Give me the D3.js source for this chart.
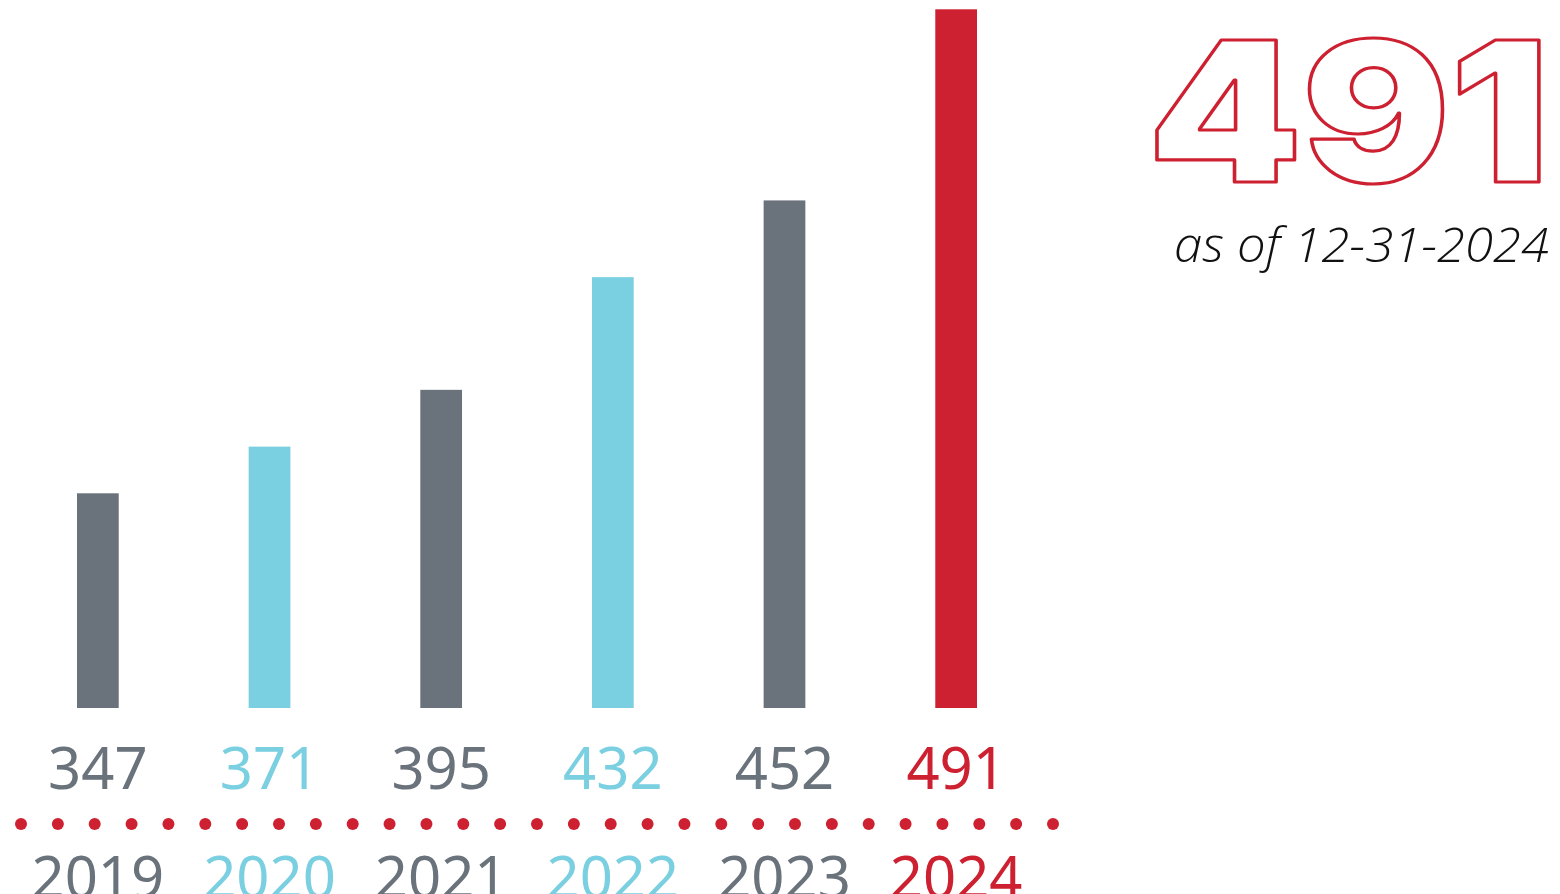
<!DOCTYPE html>
<html>
<head>
<meta charset="utf-8">
<script src="https://cdn.jsdelivr.net/npm/d3@7"></script>
<style>
  html, body { margin: 0; padding: 0; background: #ffffff; overflow: hidden; }
  svg { display: block; }
</style>
</head>
<body>
<script>
// ---- data ----
const years = ["2019", "2020", "2021", "2022", "2023", "2024"];
const values = [347, 371, 395, 432, 452, 491];
const colorKeys = ["gray", "blue", "gray", "blue", "gray", "red"];
const totalValue = "491";
const totalNote = "as of 12-31-2024";

// ---- styles ----
const palette = { gray: "#6a727b", blue: "#7acfe0", red: "#cd2030" };
const W = 1560, H = 894;
const baseline = 708;
const labelFont = "'Noto Sans', 'DejaVu Sans', sans-serif";
const bigFont = "Inter, Roboto, 'Noto Sans', sans-serif";

const svg = d3.select("body").append("svg")
  .attr("width", W).attr("height", H)
  .attr("viewBox", `0 0 ${W} ${H}`);

// x: band scale for the bars
const x = d3.scaleBand().domain(years).range([77, 977])
  .paddingInner(0.757).paddingOuter(0);

// bar heights grow exponentially in the infographic: use an inverted log scale
const hScale = d3.scaleLog().domain([214.7, 698.7])
  .range([d3.min(values), d3.max(values)]);
const barH = v => hScale.invert(v);

const data = years.map((y, i) => ({ year: y, value: values[i], color: palette[colorKeys[i]] }));

// bars
svg.append("g").selectAll("rect").data(data).join("rect")
  .attr("x", d => x(d.year))
  .attr("y", d => baseline - barH(d.value))
  .attr("width", x.bandwidth())
  .attr("height", d => barH(d.value))
  .attr("fill", d => d.color);

// value labels
svg.append("g").selectAll("text").data(data).join("text")
  .attr("x", d => x(d.year) + x.bandwidth() / 2)
  .attr("y", 789)
  .attr("text-anchor", "middle")
  .attr("font-family", labelFont)
  .attr("font-size", 58)
  .attr("fill", d => d.color)
  .text(d => d.value);

// dotted separator
const dotX = d3.scalePoint().domain(d3.range(29)).range([21, 1053]);
svg.append("g").selectAll("circle").data(dotX.domain()).join("circle")
  .attr("cx", d => dotX(d))
  .attr("cy", 824)
  .attr("r", 6)
  .attr("fill", palette.red);

// year labels
svg.append("g").selectAll("text").data(data).join("text")
  .attr("x", d => x(d.year) + x.bandwidth() / 2)
  .attr("y", 898)
  .attr("text-anchor", "middle")
  .attr("font-family", labelFont)
  .attr("font-size", 58)
  .attr("fill", d => d.color)
  .text(d => d.year);

// big outlined total
const ctx = document.createElement("canvas").getContext("2d");
ctx.font = `900 200px ${bigFont}`;
const m = ctx.measureText(totalValue);
const inkL = -m.actualBoundingBoxLeft, inkR = m.actualBoundingBoxRight;
const inkT = -m.actualBoundingBoxAscent;
const tL = 1156.7, tR = 1540, tT = 37.7, tB = 182.3;
const sx = (tR - tL) / (inkR - inkL);
const sy = (tB - tT) / (0 - inkT);
svg.append("g")
  .attr("transform", `translate(${tL - inkL * sx},${tB}) scale(${sx},${sy})`)
  .append("text")
  .attr("x", 0).attr("y", 0)
  .attr("font-family", bigFont)
  .attr("font-weight", 900)
  .attr("font-size", 200)
  .attr("fill", "#ffffff")
  .attr("stroke", palette.red)
  .attr("stroke-width", 3.4)
  .attr("stroke-linejoin", "round")
  .attr("vector-effect", "non-scaling-stroke")
  .text(totalValue);

// note
svg.append("text")
  .attr("x", 1174)
  .attr("y", 262)
  .attr("font-family", "'Open Sans', 'Noto Sans', sans-serif")
  .attr("font-style", "italic")
  .attr("font-weight", 300)
  .attr("font-size", 47)
  .attr("fill", "#111111")
  .attr("textLength", 375)
  .attr("lengthAdjust", "spacingAndGlyphs")
  .text(totalNote);
</script>
</body>
</html>
